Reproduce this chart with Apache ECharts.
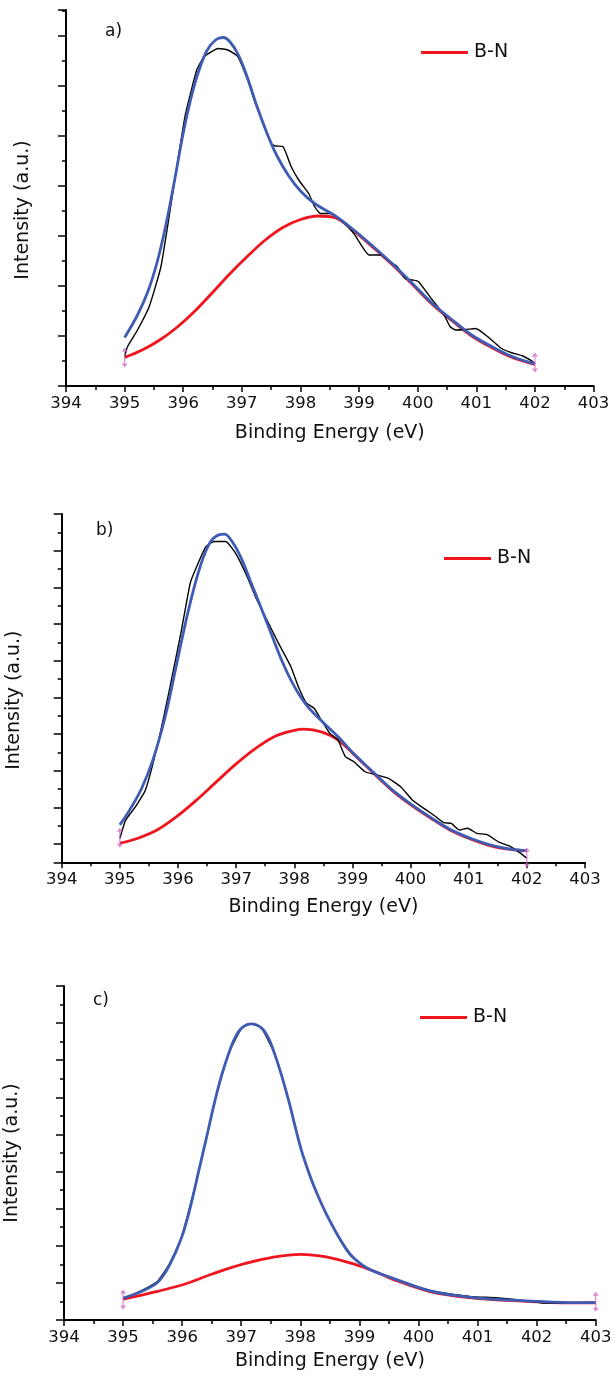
<!DOCTYPE html>
<html>
<head>
<meta charset="utf-8">
<script src="https://cdn.jsdelivr.net/npm/echarts@6/dist/echarts.min.js"></script>
<style>
  html, body { margin: 0; padding: 0; background: #ffffff; }
  #chart { width: 616px; height: 1376px; }
</style>
</head>
<body>
<div id="chart"></div>
<script>
// ---------- DATA ----------
const panelLabels = ['a)', 'b)', 'c)'];
const xTickMin = 394, xTickMax = 403;
const legendName = 'B-N';
const xTitle = 'Binding Energy (eV)';
const yTitle = 'Intensity (a.u.)';

// Panel a
const rawA = [[395,0.59],[395.05,0.79],[395.22,1.12],[395.42,1.59],[395.62,2.39],[395.82,3.85],[396.03,5.39],[396.23,6.32],[396.36,6.59],[396.6,6.75],[396.76,6.72],[396.93,6.59],[397.1,6.12],[397.23,5.65],[397.37,5.25],[397.5,4.85],[397.57,4.8],[397.7,4.79],[397.84,4.39],[397.97,4.12],[398.14,3.85],[398.24,3.59],[398.34,3.45],[398.5,3.45],[398.71,3.29],[398.91,3.05],[399.17,2.62],[399.37,2.62],[399.51,2.49],[399.65,2.39],[399.78,2.15],[399.91,2.12],[400.01,2.09],[400.25,1.72],[400.45,1.42],[400.55,1.19],[400.65,1.12],[400.82,1.13],[400.99,1.15],[401.19,0.99],[401.43,0.75],[401.59,0.67],[401.79,0.6],[401.96,0.49],[402,0.45]];
const envA = [[395,0.97],[395.22,1.42],[395.4,1.9],[395.56,2.5],[395.7,3.2],[395.85,4.1],[395.99,5.0],[396.12,5.7],[396.25,6.25],[396.4,6.7],[396.55,6.92],[396.68,6.97],[396.8,6.88],[396.95,6.6],[397.1,6.15],[397.25,5.62],[397.43,5.05],[397.6,4.6],[397.8,4.2],[398.0,3.9],[398.24,3.65],[398.57,3.42],[398.91,3.12],[399.24,2.79],[399.58,2.43],[399.91,2.05],[400.25,1.65],[400.59,1.32],[400.92,1.02],[401.26,0.79],[401.59,0.6],[402,0.44]];
const bnA = [[395,0.57],[395.3,0.72],[395.6,0.92],[395.9,1.18],[396.2,1.5],[396.5,1.87],[396.8,2.25],[397.1,2.6],[397.4,2.92],[397.7,3.17],[398.0,3.33],[398.3,3.4],[398.6,3.36],[398.91,3.1],[399.24,2.77],[399.58,2.41],[399.91,2.03],[400.25,1.63],[400.59,1.3],[400.92,1.0],[401.26,0.77],[401.59,0.58],[402,0.43]];
const markA = [[395,0.57],[402,0.47]];

// Panel b
const rawB = [[395,0.15],[395.1,0.65],[395.27,1.02],[395.44,1.47],[395.64,2.65],[395.84,4.11],[396.05,5.75],[396.21,7.11],[396.32,7.56],[396.48,8.11],[396.62,8.25],[396.82,8.25],[396.99,7.93],[397.19,7.29],[397.33,6.75],[397.53,6.11],[397.73,5.47],[397.94,4.84],[398.07,4.29],[398.21,3.84],[398.34,3.7],[398.48,3.34],[398.61,3.02],[398.75,2.84],[398.88,2.38],[399.02,2.25],[399.22,1.97],[399.42,1.88],[399.62,1.79],[399.83,1.56],[400.03,1.2],[400.23,0.97],[400.43,0.75],[400.57,0.58],[400.7,0.56],[400.84,0.38],[400.98,0.43],[401.14,0.29],[401.31,0.26],[401.51,0.06],[401.72,-0.07],[401.89,-0.25],[402,-0.39]];
const envB = [[395,0.52],[395.17,0.93],[395.37,1.5],[395.57,2.3],[395.78,3.47],[395.98,4.93],[396.18,6.38],[396.38,7.56],[396.55,8.22],[396.7,8.43],[396.8,8.45],[396.95,8.2],[397.1,7.75],[397.25,7.15],[397.4,6.56],[397.6,5.75],[397.8,4.95],[398.0,4.3],[398.21,3.79],[398.48,3.34],[398.75,2.93],[399.02,2.47],[399.35,1.97],[399.69,1.47],[400.03,1.06],[400.37,0.7],[400.7,0.38],[401.04,0.15],[401.38,-0.03],[401.72,-0.14],[402,-0.18]];
const bnB = [[395,0.02],[395.3,0.15],[395.64,0.38],[395.98,0.75],[396.32,1.2],[396.65,1.68],[396.99,2.17],[397.33,2.6],[397.67,2.94],[398.0,3.1],[398.17,3.13],[398.48,3.05],[398.75,2.84],[399.02,2.45],[399.35,1.95],[399.69,1.45],[400.03,1.04],[400.37,0.68],[400.7,0.36],[401.04,0.13],[401.38,-0.05],[401.72,-0.15],[402,-0.19]];
const markB = [[395,0.17],[402,-0.37]];

// Panel c
const rawC = [[395,0.56],[395.31,0.79],[395.58,1.04],[395.78,1.5],[395.99,2.24],[396.28,4.01],[396.54,5.81],[396.78,7.15],[397.01,7.87],[397.17,7.98],[397.34,7.87],[397.57,7.15],[397.82,5.81],[398.04,4.46],[398.24,3.57],[398.5,2.67],[398.83,1.77],[399.13,1.4],[399.56,1.13],[400.23,0.78],[400.89,0.63],[401.3,0.6],[401.76,0.53],[402.1,0.46],[402.4,0.46],[403,0.47]];
const envC = [[395,0.59],[395.31,0.77],[395.58,1.01],[395.78,1.46],[395.99,2.22],[396.14,3.05],[396.28,4.01],[396.41,4.9],[396.54,5.81],[396.66,6.55],[396.78,7.15],[396.9,7.62],[397.01,7.87],[397.17,7.98],[397.34,7.87],[397.46,7.6],[397.57,7.15],[397.7,6.5],[397.82,5.81],[397.93,5.1],[398.04,4.46],[398.24,3.57],[398.5,2.67],[398.83,1.8],[399.13,1.4],[399.56,1.13],[400.23,0.77],[400.89,0.61],[401.76,0.52],[402.55,0.47],[403,0.47]];
const bnC = [[395,0.56],[395.58,0.77],[396.05,0.97],[396.51,1.24],[397.04,1.51],[397.57,1.7],[398.0,1.77],[398.44,1.7],[398.9,1.51],[399.3,1.28],[399.56,1.1],[400.23,0.75],[400.89,0.6],[401.76,0.51],[402.55,0.46],[403,0.46]];
const markC = [[395,0.55],[403,0.49]];

const yRanges = [[0, 7.52], [-0.5, 9], [0, 9]];

// ---------- LAYOUT ----------
const grids = [
  { left: 66, top: 10, width: 527.6, height: 376, outerBoundsMode: 'none', containLabel: false },
  { left: 61.7, top: 514, width: 523.3, height: 348.3, outerBoundsMode: 'none', containLabel: false },
  { left: 64, top: 986, width: 531.7, height: 334, outerBoundsMode: 'none', containLabel: false }
];
const legendPos = [ {left: 421, top: 43}, {left: 444, top: 549}, {left: 420, top: 1008} ];
const labelPos = [ {x: 105, y: 33}, {x: 96, y: 532}, {x: 93, y: 1002} ];
const xNameGap = [38, 35, 32];
const yNameGap = [33, 38, 42];
const yNameShift = [24, 24, 0];

const BLUE = '#3f5cb4', RED = '#f0141e', BLACK = '#000000', PINK = '#d26ac6';
const FONT = '"DejaVu Sans", Verdana, sans-serif';
const arrowPath = 'path://M3,0 L6,4 L3.6,4 L3.6,16 L6,16 L3,20 L0,16 L2.4,16 L2.4,4 L0,4 Z';

const raws = [rawA, rawB, rawC], envs = [envA, envB, envC], bns = [bnA, bnB, bnC], marks = [markA, markB, markC];

const xAxes = [], yAxes = [], series = [], legends = [], graphics = [];
for (let i = 0; i < 3; i++) {
  xAxes.push({
    gridIndex: i, type: 'value', min: xTickMin, max: xTickMax, interval: 1,
    name: xTitle, nameLocation: 'middle', nameGap: xNameGap[i],
    nameTextStyle: { fontFamily: FONT, fontSize: 19, color: '#111' },
    axisLine: { show: true, onZero: false, lineStyle: { color: '#000', width: 2 } },
    axisTick: { show: true, inside: false, length: 6, lineStyle: { color: '#000', width: 1.5 } },
    minorTick: { show: true, splitNumber: 2, length: 4, lineStyle: { color: '#000', width: 1.5 } },
    axisLabel: { fontFamily: FONT, fontSize: 16.5, color: '#111', margin: 9 },
    splitLine: { show: false }, minorSplitLine: { show: false }
  });
  const yAx = {
    gridIndex: i, type: 'value', min: yRanges[i][0], max: yRanges[i][1],
    name: yTitle, nameLocation: 'middle', nameGap: yNameGap[i],
    nameTextStyle: { fontFamily: FONT, fontSize: 19, color: '#111', padding: [0, yNameShift[i], 0, 0] },
    axisLine: { show: true, onZero: false, lineStyle: { color: '#000', width: 2 } },
    axisTick: { show: true, inside: false, length: 8, lineStyle: { color: '#000', width: 1.5 } },
    minorTick: { show: true, splitNumber: 2, length: 4, lineStyle: { color: '#000', width: 1.5 } },
    axisLabel: { show: false },
    splitLine: { show: false }, minorSplitLine: { show: false }
  };
  if (i === 1) { yAx.splitNumber = 9; yAx.minInterval = 1; yAx.maxInterval = 1; }
  else { yAx.interval = 1; }
  yAxes.push(yAx);

  series.push({
    name: legendName, type: 'line', xAxisIndex: i, yAxisIndex: i, data: bns[i],
    smooth: 0.35, symbol: 'none', lineStyle: { color: RED, width: 2.8 }, itemStyle: { color: RED }, z: 2
  });
  series.push({
    name: 'raw' + i, type: 'line', xAxisIndex: i, yAxisIndex: i, data: raws[i],
    smooth: 0.15, symbol: 'none', lineStyle: { color: BLACK, width: 1.4 }, itemStyle: { color: BLACK }, z: 3
  });
  series.push({
    name: 'envelope' + i, type: 'line', xAxisIndex: i, yAxisIndex: i, data: envs[i],
    smooth: 0.35, symbol: 'none', lineStyle: { color: BLUE, width: 2.8 }, itemStyle: { color: BLUE }, z: 4
  });
  series.push({
    name: 'anchor' + i, type: 'scatter', xAxisIndex: i, yAxisIndex: i, data: marks[i],
    symbol: arrowPath, symbolSize: [6, 20], itemStyle: { color: PINK }, z: 5
  });
  legends.push({
    data: [legendName], left: legendPos[i].left, top: legendPos[i].top, padding: 0,
    icon: 'rect', itemWidth: 47, itemHeight: 3,
    textStyle: { fontFamily: FONT, fontSize: 19, color: '#111', padding: [0, 0, 0, 1] },
    selectedMode: false
  });
  graphics.push({
    type: 'text', left: labelPos[i].x, top: labelPos[i].y - 10,
    style: { text: panelLabels[i], font: '17px ' + FONT, fill: '#111' }
  });
}

const chart = echarts.init(document.getElementById('chart'), null, { renderer: 'canvas' });
chart.setOption({
  animation: false,
  backgroundColor: '#ffffff',
  grid: grids,
  xAxis: xAxes,
  yAxis: yAxes,
  legend: legends,
  series: series,
  graphic: graphics
});
</script>
</body>
</html>
